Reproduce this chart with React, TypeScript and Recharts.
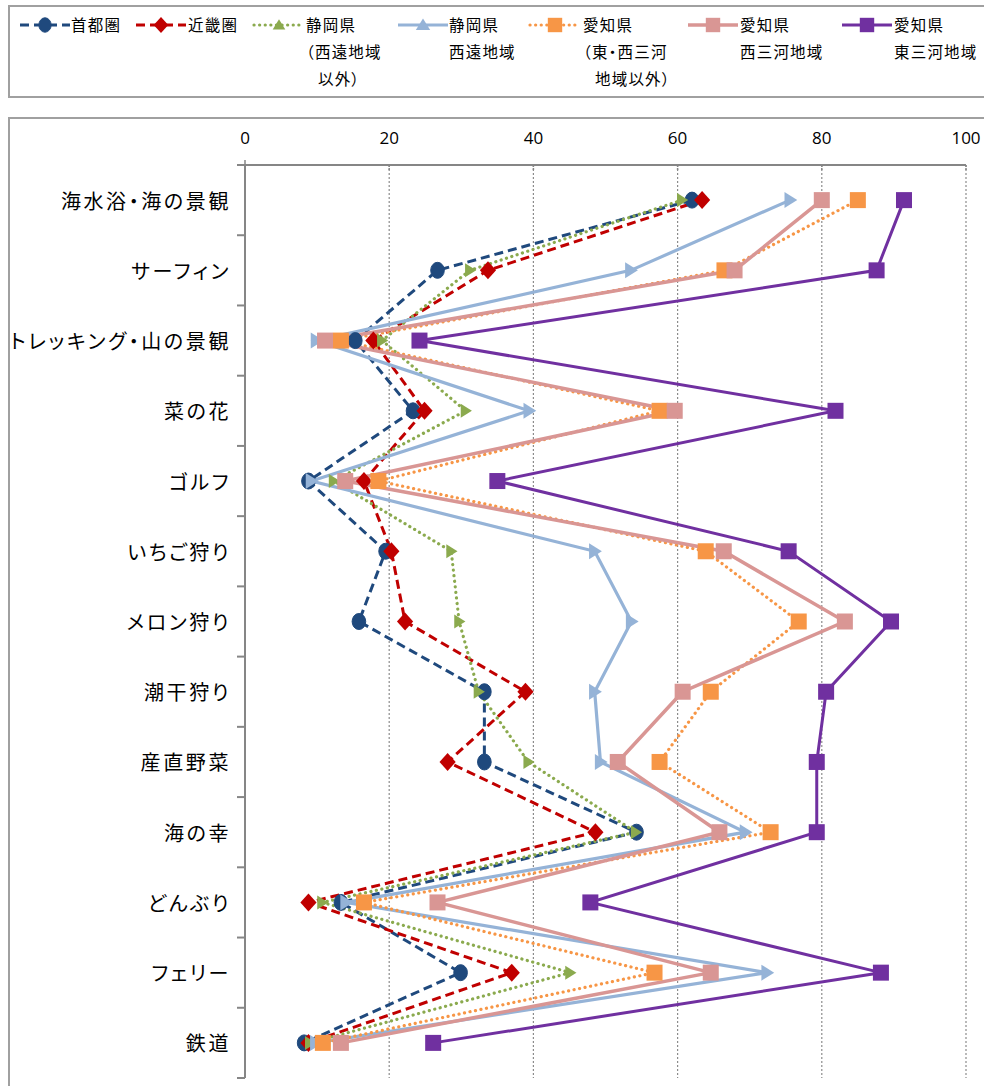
import React from "react";
import { LineChart, Line, XAxis, YAxis, CartesianGrid } from "recharts";

const categories = [
  "海水浴・海の景観",
  "サーフィン",
  "トレッキング・山の景観",
  "菜の花",
  "ゴルフ",
  "いちご狩り",
  "メロン狩り",
  "潮干狩り",
  "産直野菜",
  "海の幸",
  "どんぶり",
  "フェリー",
  "鉄道",
];

const shutoken = [62.0, 26.7, 15.3, 23.3, 8.8, 19.5, 15.8, 33.2, 33.2, 54.3, 13.3, 29.9, 8.2];
const kinki = [63.4, 33.7, 17.8, 24.9, 16.5, 20.3, 22.2, 38.9, 28.1, 48.6, 8.8, 37.0, 8.8];
const shizuokaOther = [60.6, 31.2, 19.0, 30.6, 12.3, 28.6, 29.7, 32.4, 39.3, 54.2, 10.7, 45.1, 9.0];
const shizuokaSeien = [75.6, 53.5, 9.9, 39.4, 9.2, 48.5, 53.6, 48.5, 49.3, 69.4, 14.0, 72.4, 9.8];
const aichiOther = [85.0, 66.5, 13.3, 57.5, 18.5, 63.9, 76.8, 64.6, 57.5, 72.9, 16.5, 56.8, 10.8];
const nishiMikawa = [80.0, 67.9, 11.1, 59.6, 13.9, 66.4, 83.2, 60.7, 51.7, 65.8, 26.7, 64.6, 13.3];
const higashiMikawa = [91.4, 87.6, 24.2, 81.9, 35.0, 75.4, 89.6, 80.6, 79.3, 79.3, 47.9, 88.2, 26.1];

const xTicks = [0, 20, 40, 60, 80, 100];

const seriesNames = [
  ["首都圏"],
  ["近畿圏"],
  ["静岡県", "（西遠地域", "以外）"],
  ["静岡県", "西遠地域"],
  ["愛知県", "（東・西三河", "地域以外）"],
  ["愛知県", "西三河地域"],
  ["愛知県", "東三河地域"],
];

const data = categories.map((name, i) => ({
  name,
  s1: shutoken[i],
  s2: kinki[i],
  s3: shizuokaOther[i],
  s4: shizuokaSeien[i],
  s5: aichiOther[i],
  s6: nishiMikawa[i],
  s7: higashiMikawa[i],
}));

const JP = '"Noto Sans CJK JP", "Noto Sans", sans-serif';
const BAND = 913 / 13;

type Shape = "circle" | "diamond" | "triR" | "triU" | "square";

function Marker({ shape, cx, cy, color, size }: { shape: Shape; cx: number; cy: number; color: string; size: number }) {
  if (shape === "circle") {
    return <ellipse cx={cx} cy={cy} rx={size * 0.85} ry={size} fill={color} stroke={color} strokeWidth={1} />;
  }
  if (shape === "diamond") {
    const s = size;
    return (
      <polygon
        points={`${cx},${cy - s} ${cx + s * 0.9},${cy} ${cx},${cy + s} ${cx - s * 0.9},${cy}`}
        fill={color}
      />
    );
  }
  if (shape === "triR") {
    const s = size;
    return (
      <polygon
        points={`${cx - s * 0.7},${cy - s} ${cx + s * 0.9},${cy} ${cx - s * 0.7},${cy + s}`}
        fill={color}
      />
    );
  }
  if (shape === "triU") {
    const s = size;
    return (
      <polygon
        points={`${cx - s},${cy + s * 0.7} ${cx},${cy - s * 0.9} ${cx + s},${cy + s * 0.7}`}
        fill={color}
      />
    );
  }
  return <rect x={cx - size} y={cy - size} width={size * 2} height={size * 2} fill={color} />;
}

const series = [
  { key: "s1", color: "#1F497D", dash: "9 5", width: 3, shape: "circle" as Shape, legendShape: "circle" as Shape, size: 8, cap: "butt" },
  { key: "s2", color: "#C00000", dash: "9 5", width: 3, shape: "diamond" as Shape, legendShape: "diamond" as Shape, size: 9, cap: "butt" },
  { key: "s3", color: "#8BAA4E", dash: "0.1 5.5", width: 3.2, shape: "triR" as Shape, legendShape: "triU" as Shape, size: 7, cap: "round" },
  { key: "s4", color: "#95B3D7", dash: undefined, width: 3.2, shape: "triR" as Shape, legendShape: "triU" as Shape, size: 8, cap: "butt" },
  { key: "s5", color: "#F79646", dash: "0.1 5.5", width: 3.2, shape: "square" as Shape, legendShape: "square" as Shape, size: 8, cap: "round" },
  { key: "s6", color: "#D99694", dash: undefined, width: 3.5, shape: "square" as Shape, legendShape: "square" as Shape, size: 8, cap: "butt" },
  { key: "s7", color: "#7030A0", dash: undefined, width: 3, shape: "square" as Shape, legendShape: "square" as Shape, size: 8, cap: "butt" },
];

const legendPos = [
  { lx: 18, tx: 71 },
  { lx: 134, tx: 188 },
  { lx: 252, tx: 306 },
  { lx: 396, tx: 449 },
  { lx: 528, tx: 583 },
  { lx: 686, tx: 740 },
  { lx: 840, tx: 894 },
];

function CategoryTick(props: any) {
  const { y, payload, index } = props;
  const n = categories.length;
  return (
    <g>
      <text
        x={231}
        y={y}
        textAnchor="end"
        dominantBaseline="central"
        fontFamily={JP}
        fontSize={20}
        letterSpacing={2.6}
        fill="#000"
        style={{ fontFeatureSettings: '"palt"' }}
      >
        {payload.value}
      </text>
      <line x1={237} x2={245} y1={y - BAND / 2} y2={y - BAND / 2} stroke="#868686" strokeWidth={2} />
      {index === n - 1 ? (
        <line x1={237} x2={245} y1={y + BAND / 2} y2={y + BAND / 2} stroke="#868686" strokeWidth={2} />
      ) : null}
    </g>
  );
}

function ValueTick(props: any) {
  const { x, payload } = props;
  return (
    <g>
      <text
        x={x}
        y={137}
        textAnchor="middle"
        dominantBaseline="central"
        fontFamily='"Open Sans", sans-serif'
        fontSize={17}
        fill="#000"
      >
        {payload.value}
      </text>
      <line x1={x} x2={x} y1={payload.value === 0 ? 160 : 165} y2={171} stroke="#868686" strokeWidth={1.5} strokeDasharray={payload.value === 0 ? undefined : "2 1"} />
    </g>
  );
}

function LegendSwatch({ s }: { s: (typeof series)[number] }) {
  return (
    <svg width={54} height={20} style={{ display: "block" }}>
      <line
        x1={2}
        x2={52}
        y1={10}
        y2={10}
        stroke={s.color}
        strokeWidth={s.width}
        strokeDasharray={s.dash}
        strokeLinecap={s.cap as any}
      />
      <Marker shape={s.legendShape} cx={27} cy={10} color={s.color} size={s.size * 0.9} />
    </svg>
  );
}

export default function App() {
  return (
    <div
      style={{
        position: "absolute",
        left: 0,
        top: 0,
        width: 984,
        height: 1086,
        overflow: "hidden",
        background: "#fff",
      }}
    >
      <div
        style={{
          position: "absolute",
          left: 8,
          top: 5,
          width: 1000,
          height: 93,
          border: "2px solid #A0A0A0",
          boxSizing: "border-box",
        }}
      />
      {series.map((s, i) => (
        <React.Fragment key={s.key}>
          <div style={{ position: "absolute", left: legendPos[i].lx, top: 15 }}>
            <LegendSwatch s={s} />
          </div>
          <div
            style={{
              position: "absolute",
              left: legendPos[i].tx,
              top: 11,
              fontFamily: JP,
              fontSize: 15.5,
              letterSpacing: 1.2,
              lineHeight: "27px",
              color: "#000",
              whiteSpace: "nowrap",
              fontFeatureSettings: '"palt"',
            }}
          >
            {seriesNames[i].map((t, j) => (
              <div key={j} style={{ marginLeft: i === 2 && j === 2 ? 12 : i === 4 && j === 2 ? 12 : 0 }}>
                {t}
              </div>
            ))}
          </div>
        </React.Fragment>
      ))}
      <div
        style={{
          position: "absolute",
          left: 8,
          top: 117,
          width: 1000,
          height: 1000,
          border: "2px solid #A0A0A0",
          boxSizing: "border-box",
        }}
      />
      <div style={{ position: "absolute", left: 0, top: 0 }}>
        <LineChart
          width={984}
          height={1086}
          data={data}
          layout="vertical"
          margin={{ top: 117, right: 18, bottom: 8, left: 0 }}
        >
          <CartesianGrid horizontal={false} vertical={true} stroke="#8C8C8C" strokeDasharray="2 2" strokeWidth={1.2} />
          <XAxis
            type="number"
            orientation="top"
            domain={[0, 100]}
            ticks={xTicks}
            height={48}
            axisLine={{ stroke: "#868686", strokeWidth: 2 }}
            tickLine={false}
            tick={<ValueTick />}
            interval={0}
          />
          <YAxis
            type="category"
            dataKey="name"
            width={245}
            padding={{ top: BAND / 2, bottom: BAND / 2 }}
            axisLine={{ stroke: "#868686", strokeWidth: 2 }}
            tickLine={false}
            tick={<CategoryTick />}
            interval={0}
          />
          {series.map((s) => (
            <Line
              key={s.key}
              dataKey={s.key}
              type="linear"
              stroke={s.color}
              strokeWidth={s.width}
              strokeDasharray={s.dash}
              strokeLinecap={s.cap as any}
              isAnimationActive={false}
              dot={(p: any) => (
                <g key={`${s.key}-${p.index}`}>
                  <Marker shape={s.shape} cx={p.cx} cy={p.cy} color={s.color} size={s.size} />
                </g>
              )}
              activeDot={false}
            />
          ))}
        </LineChart>
      </div>
    </div>
  );
}
